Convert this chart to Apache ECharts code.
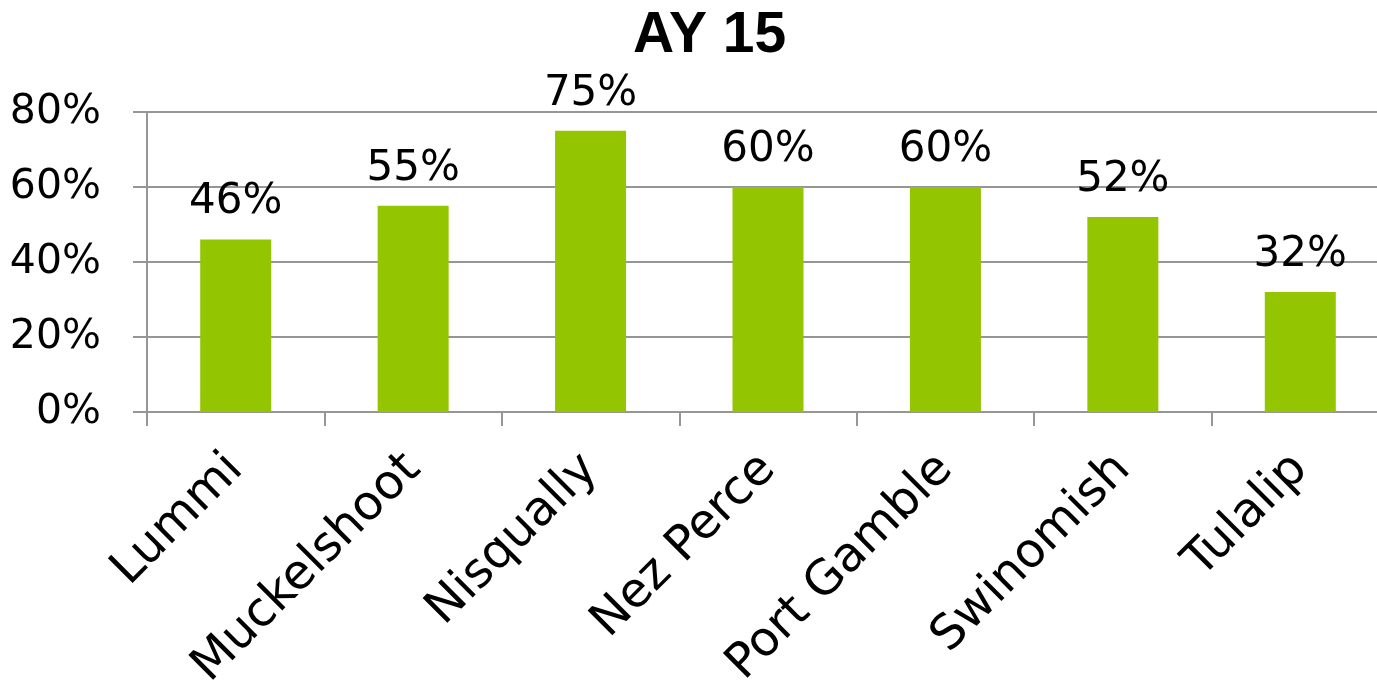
<!DOCTYPE html>
<html>
<head>
<meta charset="utf-8">
<script src="https://cdn.jsdelivr.net/npm/echarts@6/dist/echarts.min.js"></script>
<style>
html,body{margin:0;padding:0;background:#fff;}
#chart{width:1377px;height:685px;}
</style>
</head>
<body>
<div id="chart"></div>
<script>
const categories = ['Lummi', 'Muckelshoot', 'Nisqually', 'Nez Perce', 'Port Gamble', 'Swinomish', 'Tulalip'];
const values = [0.46, 0.55, 0.75, 0.60, 0.60, 0.52, 0.32];
const titleText = 'AY 15';

const chart = echarts.init(document.getElementById('chart'));
const gray = '#969696';
const font = 'DejaVu Sans';
chart.setOption({
  animation: false,
  backgroundColor: '#fff',
  title: {
    text: titleText,
    left: 628,
    top: 3,
    textStyle: { fontFamily: 'Liberation Sans', fontWeight: 'bold', fontSize: 57, color: '#000' }
  },
  grid: { left: 147, right: -12, top: 112, bottom: 273, outerBoundsMode: 'none', containLabel: false },
  xAxis: {
    type: 'category',
    data: categories,
    axisLine: { show: true, lineStyle: { color: gray, width: 2 } },
    axisTick: { show: true, length: 14, alignWithLabel: false, lineStyle: { color: gray, width: 2 } },
    axisLabel: { interval: 0, rotate: 45, margin: 50, fontFamily: font, fontSize: 48, color: '#000' }
  },
  yAxis: {
    type: 'value',
    min: 0, max: 0.8, interval: 0.2,
    axisLine: { show: true, lineStyle: { color: gray, width: 2 } },
    axisTick: { show: true, length: 14, lineStyle: { color: gray, width: 2 } },
    splitLine: { show: true, lineStyle: { color: gray, width: 2 } },
    axisLabel: {
      margin: 46, fontFamily: font, fontSize: 41, color: '#000',
      formatter: v => Math.round(v * 100) + '%'
    }
  },
  series: [{
    type: 'bar',
    data: values,
    barWidth: 71,
    itemStyle: { color: '#93c500' },
    label: {
      show: true, position: 'top', distance: 16,
      fontFamily: font, fontSize: 42, color: '#000',
      formatter: p => Math.round(p.value * 100) + '%'
    }
  }]
});
</script>
</body>
</html>
